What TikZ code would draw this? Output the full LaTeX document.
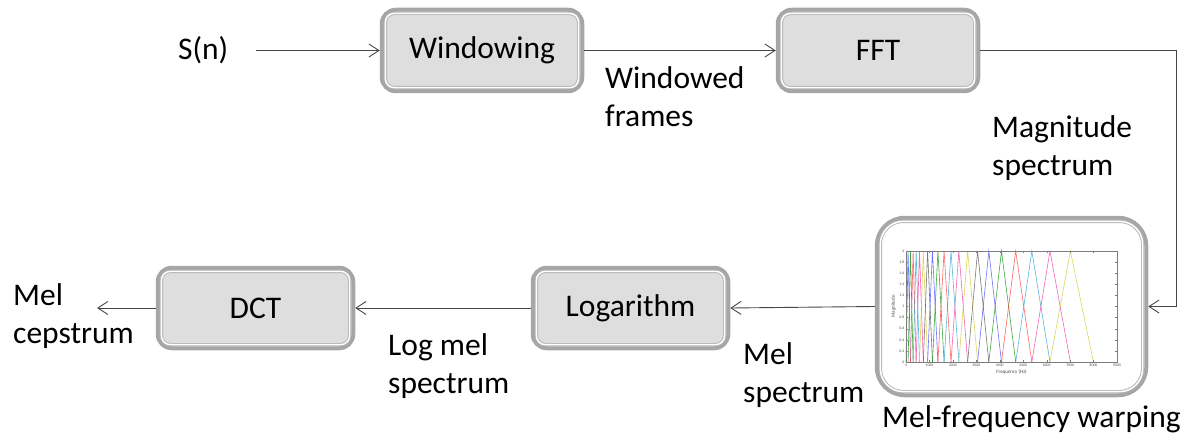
\documentclass[tikz,border=0pt]{standalone}
\usepackage{fontspec}
\setmainfont{Carlito}
\usetikzlibrary{arrows.meta,calc}

\definecolor{edgegray}{RGB}{166,166,166}
\definecolor{linegray}{RGB}{178,178,178}
\definecolor{boxfill}{RGB}{222,222,222}
\definecolor{wire}{RGB}{70,70,70}
\definecolor{axisgray}{RGB}{125,125,125}
% filter-bank line colours (b g r c m y k)
\colorlet{mc0}{blue!75}
\colorlet{mc1}{green!55!black}
\colorlet{mc2}{red!80}
\colorlet{mc3}{cyan!85!black}
\colorlet{mc4}{magenta!80}
\colorlet{mc5}{yellow!80!black}
\colorlet{mc6}{black!70}

% thin inner outline of a block, inset from its thick border
\newcommand{\innerframe}[2]{%
  \draw[frameline, rounded corners=#2]
    ([xshift=5.6pt,yshift=-5.6pt]#1.north west) rectangle
    ([xshift=-5.6pt,yshift=5.6pt]#1.south east);}

\begin{document}
\begin{tikzpicture}[x=1pt,y=-1pt,
  txt/.style={font=\fontsize{31.5}{38}\selectfont, inner sep=0pt, text=black},
  lbl/.style={txt, align=left, anchor=base west},
  block/.style={txt, draw=edgegray, line width=4pt, fill=boxfill,
    rounded corners=14pt, minimum width=200.5pt, minimum height=81.5pt},
  smallblock/.style={block, minimum width=195.5pt, minimum height=80.5pt},
  frameline/.style={draw=linegray, line width=0.9pt, double=white, double distance=1.5pt},
  arr/.style={draw=wire, line width=0.9pt, -{Straight Barb[length=10pt,width=13pt]}},
  filt/.style={line width=0.6pt, opacity=0.75},
  axisline/.style={draw=axisgray, line width=0.5pt},
  ticklbl/.style={font=\fontsize{3.8}{4}\selectfont, text=black!70, inner sep=0.6pt},
  axlbl/.style={font=\fontsize{5}{6}\selectfont, text=black!70, inner sep=0.5pt}]

\useasboundingbox (0,0) rectangle (1190,441);

% processing blocks
\node[block] (win) at (482,50.5) {Windowing};
\node[block] (fft) at (878,50.5) {FFT};
\node[smallblock] (dct) at (255.5,308) {DCT};
\node[smallblock] (log) at (630.5,308) {Logarithm};
\node[block, fill=white, rounded corners=28pt, minimum width=269.5pt,
      minimum height=177.5pt] (mel) at (1011.5,306.5) {};
\innerframe{win}{9pt}
\innerframe{fft}{9pt}
\innerframe{dct}{9pt}
\innerframe{log}{9pt}
\innerframe{mel}{23pt}

% mel filter bank plot
\foreach \k [evaluate=\k as \ci using {int(mod(\k-1,7))}] in {1,...,20} {
  \pgfmathsetmacro\fa{700*(pow(10,(\k-1)*0.052115)-1)}
  \pgfmathsetmacro\fb{700*(pow(10,\k*0.052115)-1)}
  \pgfmathsetmacro\fc{700*(pow(10,(\k+1)*0.052115)-1)}
  \draw[filt, draw=mc\ci] ({906+\fa*0.023444},362) -- ({906+\fb*0.023444},251)
    -- ({906+\fc*0.023444},362);
}
\draw[axisline] (906,251) rectangle (1117,362);
\foreach \i in {0,...,10} {
  \draw[axisline, line width=0.3pt] (906,{362-\i*11.1}) -- ++(2,0);
  \draw[axisline, line width=0.3pt] (1117,{362-\i*11.1}) -- ++(-2,0);
}
\foreach \i in {0,...,9} {
  \draw[axisline, line width=0.3pt] ({906+\i*23.444},362) -- ++(0,-2);
  \draw[axisline, line width=0.3pt] ({906+\i*23.444},251) -- ++(0,2);
}
\foreach \v [count=\i from 0] in {0,0.2,0.4,0.6,0.8,1,1.2,1.4,1.6,1.8,2}
  \node[ticklbl, anchor=east] (ytick\i) at (905,{362-\i*11.1}) {\v};
\foreach \v [count=\i from 0] in {0,1000,2000,3000,4000,5000,6000,7000,8000,9000}
  \node[ticklbl, anchor=north] (xtick\i) at ({906+\i*23.444},363.5) {\v};
\node[axlbl, anchor=north] (xlab) at (1011.5,369) {Frequency (Hz)};
\node[axlbl, rotate=90] (ylab) at (893.5,306.5) {Magnitude};

% signal labels (multi-line labels are placed by the baseline of their last line)
\node[lbl] (sn) at (178,60) {S(n)};
\node[lbl] (wf) at (605,126) {Windowed\\frames};
\node[lbl] (ms) at (992,175) {Magnitude\\spectrum};
\node[lbl] (mc) at (13,343) {Mel\\cepstrum};
\node[lbl] (lms) at (388,393) {Log mel\\spectrum};
\node[lbl] (mspec) at (743,402) {Mel\\spectrum};
\node[lbl] (mfw) at (882,427) {Mel-frequency warping};

% connectors
\coordinate (cepout) at (97,308);
\draw[arr] ([xshift=27pt]sn.east |- win.west) -- (win.west);
\draw[arr] (win.east) -- (fft.west);
\draw[arr] (fft.east) -| ([xshift=28pt]mel.east) -- (mel.east);
\draw[arr] (mel.west) -- (log.east);
\draw[arr] (log.west) -- (dct.east);
\draw[arr] (dct.west) -- (cepout);
\end{tikzpicture}
\end{document}
